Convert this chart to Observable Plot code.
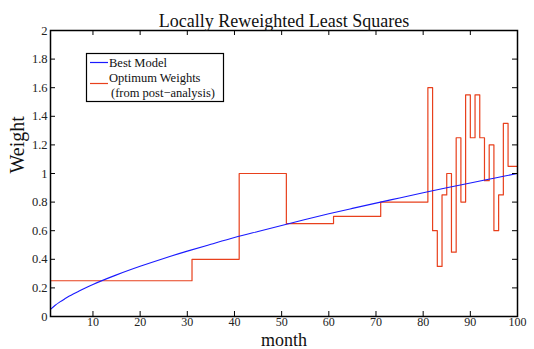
<!DOCTYPE html>
<html>
<head>
<meta charset="utf-8">
<script src="https://cdn.jsdelivr.net/npm/d3@7"></script>
<script src="https://cdn.jsdelivr.net/npm/@observablehq/plot@0.6"></script>
<style>
  html, body { margin: 0; padding: 0; background: #fff; }
  #chart { position: relative; width: 534px; height: 349px; }
  svg { overflow: visible; }
</style>
</head>
<body>
<div id="chart"></div>
<script>
// Data
const modelMonths  = [1, 2, 3, 4, 5, 7, 10, 15, 20, 25, 30, 35, 40, 45, 50, 55, 60, 65, 70, 75, 80, 85, 90, 95, 100];
const modelWeights = [0.05, 0.079, 0.102, 0.123, 0.143, 0.177, 0.224, 0.291, 0.351, 0.406, 0.457, 0.505, 0.552, 0.595, 0.637, 0.678, 0.718, 0.756, 0.793, 0.829, 0.865, 0.9, 0.934, 0.967, 1.0];

const stepMonths  = [1, 31, 41, 51, 61, 71, 81, 82, 83, 84, 85, 86, 87, 88, 89, 90, 91, 92, 93, 94, 95, 96, 97, 98, 100];
const stepWeights = [0.25, 0.4, 1.0, 0.65, 0.7, 0.8, 1.6, 0.6, 0.35, 0.85, 1.0, 0.45, 1.25, 0.8, 1.55, 1.25, 1.55, 1.25, 0.95, 1.2, 0.6, 0.85, 1.35, 1.05, 1.05];

const xTicks = [10, 20, 30, 40, 50, 60, 70, 80, 90, 100];
const yTicks = [0, 0.2, 0.4, 0.6, 0.8, 1, 1.2, 1.4, 1.6, 1.8, 2];

const titleText = "Locally Reweighted Least Squares";
const xLabel = "month";
const yLabel = "Weight";
const legendLabels = ["Best Model", "Optimum Weights", "(from post\u2212analysis)"];

const blue = "#1a1aff";
const red = "#e8401c";
const serif = "'Liberation Serif', 'Times New Roman', serif";

const model = modelMonths.map((m, i) => ({month: m, weight: modelWeights[i]}));
const steps = stepMonths.map((m, i) => ({month: m, weight: stepWeights[i]}));

const W = 534, H = 349;
const mTop = 30, mBottom = 33, mLeft = 50, mRight = 17;
const innerH = H - mTop - mBottom;
const innerW = W - mLeft - mRight;
const tk = 5;

const plot = Plot.plot({
  width: W,
  height: H,
  marginTop: mTop,
  marginBottom: mBottom,
  marginLeft: mLeft,
  marginRight: mRight,
  style: {fontFamily: serif, background: "#fff", color: "#222"},
  x: {domain: [1, 100]},
  y: {domain: [0, 2]},
  marks: [
    Plot.line(steps, {x: "month", y: "weight", curve: "step-after", stroke: red, strokeWidth: 1.2}),
    Plot.line(model, {x: "month", y: "weight", curve: "catmull-rom", stroke: blue, strokeWidth: 1.1}),
    // inward tick marks, all four sides
    Plot.tickX(xTicks, {x: d => d, insetTop: innerH - tk, stroke: "#000", strokeWidth: 1}),
    Plot.tickX(xTicks, {x: d => d, insetBottom: innerH - tk, stroke: "#000", strokeWidth: 1}),
    Plot.tickY(yTicks, {y: d => d, insetRight: innerW - tk, stroke: "#000", strokeWidth: 1}),
    Plot.tickY(yTicks, {y: d => d, insetLeft: innerW - tk, stroke: "#000", strokeWidth: 1}),
    Plot.axisX(xTicks, {tickSize: 0, tickPadding: 1, fontSize: 12, fontFamily: serif, fill: "#222", label: null}),
    Plot.axisY(yTicks, {tickSize: 0, tickPadding: 3, fontSize: 12.5, fontFamily: serif, fill: "#222", label: null, tickFormat: d => String(d)}),
    Plot.frame({stroke: "#000", strokeWidth: 1.5}),
    Plot.text([titleText], {frameAnchor: "top", dy: -16, fontSize: 18, fontFamily: serif, fill: "#111"}),
    Plot.text([xLabel], {frameAnchor: "bottom", dy: 24, lineAnchor: "middle", fontSize: 18, fontFamily: serif, fill: "#111"}),
    Plot.text([yLabel], {frameAnchor: "left", dx: -33, rotate: -90, fontSize: 20, fontFamily: serif, fill: "#111"})
  ]
});

document.getElementById("chart").appendChild(plot);

// legend box
const svg = d3.select(plot);
const g = svg.append("g")
  .attr("font-family", serif)
  .attr("font-size", 12.5)
  .attr("fill", "#111")
  .attr("text-anchor", "start");
g.append("rect").attr("x", 86.5).attr("y", 53.5).attr("width", 137).attr("height", 48)
  .attr("fill", "#fff").attr("stroke", "#000").attr("stroke-width", 1.2);
g.append("line").attr("x1", 90).attr("x2", 108).attr("y1", 62.5).attr("y2", 62.5).attr("stroke", blue).attr("stroke-width", 1.2);
g.append("text").attr("x", 109).attr("y", 66.5).text(legendLabels[0]);
g.append("line").attr("x1", 90).attr("x2", 108).attr("y1", 83.5).attr("y2", 83.5).attr("stroke", red).attr("stroke-width", 1.2);
g.append("text").attr("x", 109).attr("y", 82).text(legendLabels[1]);
g.append("text").attr("x", 111).attr("y", 97).text(legendLabels[2]);
</script>
</body>
</html>
